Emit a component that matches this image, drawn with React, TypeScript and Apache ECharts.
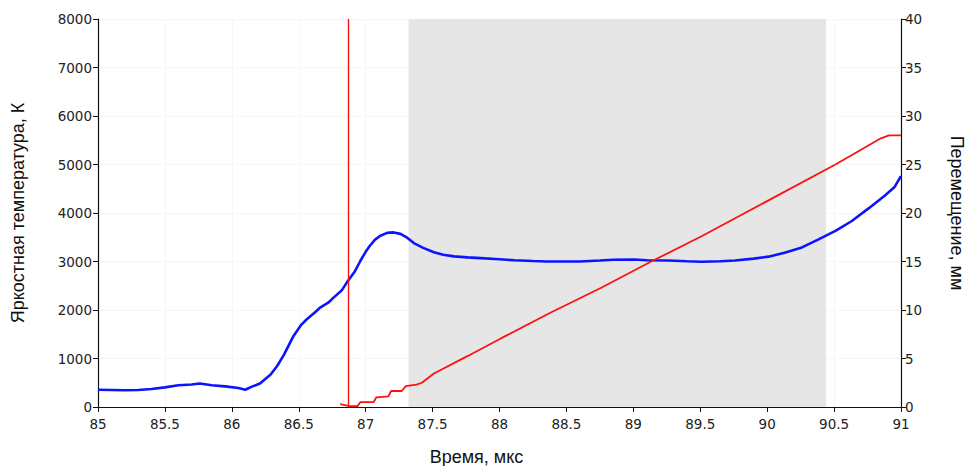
import React, { useEffect, useRef } from "react";
import * as echarts from "echarts";

const blueTime = [85.0, 85.1, 85.2, 85.3, 85.4, 85.5, 85.6, 85.7, 85.76, 85.85, 85.95, 86.05, 86.1, 86.15, 86.21, 86.29, 86.34, 86.39, 86.46, 86.52, 86.56, 86.62, 86.66, 86.72, 86.76, 86.82, 86.86, 86.92, 86.96, 87.0, 87.03, 87.07, 87.11, 87.16, 87.21, 87.26, 87.31, 87.36, 87.43, 87.51, 87.58, 87.66, 87.76, 87.86, 88.0, 88.11, 88.25, 88.35, 88.5, 88.6, 88.75, 88.85, 89.01, 89.1, 89.26, 89.4, 89.51, 89.65, 89.76, 89.9, 90.01, 90.13, 90.26, 90.38, 90.51, 90.63, 90.76, 90.88, 90.95, 91.0];
const blueTemp = [355, 350, 345, 350, 370, 405, 450, 465, 485, 450, 425, 390, 355, 420, 485, 670, 850, 1080, 1460, 1700, 1810, 1950, 2050, 2150, 2255, 2400, 2570, 2800, 3010, 3200, 3320, 3450, 3530, 3590, 3600, 3570, 3490, 3380, 3280, 3190, 3140, 3105, 3085, 3070, 3045, 3025, 3010, 3000, 3000, 3000, 3020, 3035, 3040, 3025, 3020, 3005, 2995, 3005, 3020, 3060, 3100, 3180, 3290, 3450, 3630, 3830, 4100, 4360, 4530, 4760];

const redTime = [86.81, 86.88, 86.94, 86.96, 87.06, 87.08, 87.17, 87.19, 87.27, 87.3, 87.38, 87.42, 87.51, 87.76, 88.01, 88.38, 88.76, 89.13, 89.51, 90.01, 90.51, 90.85, 90.91, 91.0];
const redDisp = [0.3, 0.1, 0.1, 0.5, 0.5, 1.0, 1.1, 1.65, 1.65, 2.15, 2.3, 2.5, 3.45, 5.24, 7.07, 9.71, 12.3, 14.97, 17.6, 21.3, 25.0, 27.7, 28.0, 28.0];

const markerTime = 86.87;
const bandStart = 87.32;
const bandEnd = 90.44;

const xName = "Время, мкс";
const leftName = "Яркостная температура, К";
const rightName = "Перемещение, мм";

const LABEL_FONT = "DejaVu Sans";
const NAME_FONT = "Liberation Sans";

export default function App() {
  const ref = useRef<HTMLDivElement>(null);
  useEffect(() => {
    if (!ref.current) return;
    const chart = echarts.init(ref.current, undefined, { renderer: "svg" });
    const axisLine = { show: true, lineStyle: { color: "#111", width: 1.2 } };
    const axisTick = { show: true, length: 5, lineStyle: { color: "#111" } };
    const axisLabel = { color: "#222", fontFamily: LABEL_FONT, fontSize: 13.5, formatter: (v: number) => String(v) };
    const nameStyle = { color: "#111", fontFamily: NAME_FONT, fontSize: 18 };
    chart.setOption({
      animation: false,
      backgroundColor: "#fff",
      grid: { left: 98, right: 66, top: 19, bottom: 59, containLabel: false, outerBoundsMode: "none" },
      xAxis: {
        type: "value",
        min: 85,
        max: 91,
        interval: 0.5,
        name: xName,
        nameLocation: "middle",
        nameGap: 41,
        nameTextStyle: { ...nameStyle, padding: [0, 46, 0, 0] },
        axisLine,
        axisTick,
        axisLabel: { ...axisLabel, margin: 10 },
        splitLine: { show: true, lineStyle: { color: "#f6f6f6" } },
      },
      yAxis: [
        {
          type: "value",
          min: 0,
          max: 8000,
          interval: 1000,
          name: leftName,
          nameLocation: "middle",
          nameGap: 71,
          nameTextStyle: nameStyle,
          axisLine,
          axisTick,
          axisLabel: { ...axisLabel, margin: 6 },
          splitLine: { show: true, lineStyle: { color: "#f6f6f6" } },
        },
        {
          type: "value",
          min: 0,
          max: 40,
          interval: 5,
          position: "right",
          name: rightName,
          nameLocation: "middle",
          nameGap: 47,
          nameRotate: -90,
          nameTextStyle: nameStyle,
          axisLine,
          axisTick,
          axisLabel: { ...axisLabel, margin: 4 },
          splitLine: { show: false },
        },
      ],
      series: [
        {
          type: "line",
          data: [],
          z: 1,
          silent: true,
          markArea: {
            silent: true,
            itemStyle: { color: "#e6e6e6" },
            data: [[{ xAxis: bandStart }, { xAxis: bandEnd }]],
          },
        },
        {
          type: "line",
          yAxisIndex: 0,
          z: 3,
          showSymbol: false,
          symbol: "none",
          lineStyle: { color: "#0a14ff", width: 2.6 },
          data: blueTime.map((t, i) => [t, blueTemp[i]]),
        },
        {
          type: "line",
          yAxisIndex: 1,
          z: 4,
          showSymbol: false,
          symbol: "none",
          lineStyle: { color: "#ff1010", width: 1.8 },
          data: redTime.map((t, i) => [t, redDisp[i]]),
          markLine: {
            silent: true,
            symbol: "none",
            label: { show: false },
            lineStyle: { color: "#ff1010", width: 1.4, type: "solid" },
            data: [{ xAxis: markerTime }],
          },
        },
      ],
    });
    return () => chart.dispose();
  }, []);
  return <div ref={ref} style={{ position: "fixed", left: 0, top: 0, width: 967, height: 466 }} />;
}
